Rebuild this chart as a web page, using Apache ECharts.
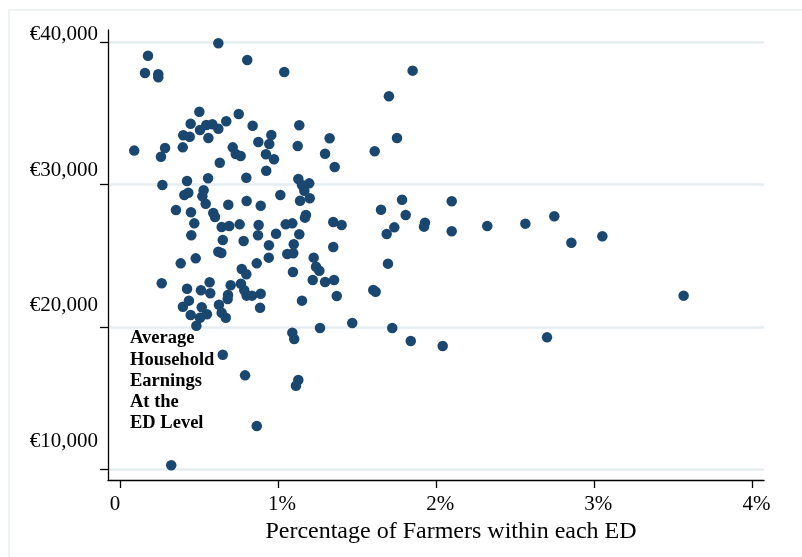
<!DOCTYPE html>
<html>
<head>
<meta charset="utf-8">
<script src="https://cdn.jsdelivr.net/npm/echarts@6/dist/echarts.min.js"></script>
<style>
  html, body { margin: 0; padding: 0; background: #fff; }
  #wrap { position: relative; width: 802px; height: 557px; overflow: hidden; }
  #chart { position: absolute; left: 0; top: 0; width: 802px; height: 557px; }
  #frame { position: absolute; left: 8px; top: 9px; width: 900px; height: 700px;
           border-left: 2px solid #edf2f2; border-top: 2px solid #edf2f2; pointer-events: none; }
</style>
</head>
<body>
<div id="wrap">
  <div id="chart"></div>
  <div id="frame"></div>
</div>
<script>
// values: share of farmers (%) and average household earnings (EUR)
var pctFarmers = [
  0.622, 0.177, 0.805, 0.158, 0.242, 0.242, 1.039, 1.851, 1.701, 0.502,
  0.751, 0.447, 0.546, 0.584, 0.622, 0.672, 0.506, 0.839, 1.134, 0.400,
  0.441, 0.559, 0.957, 1.326, 1.752, 0.875, 0.944, 1.124, 0.090, 0.285,
  0.259, 0.397, 0.713, 0.732, 0.763, 0.923, 0.974, 1.297, 1.611, 0.631,
  1.358, 0.925, 0.268, 0.424, 0.557, 0.799, 1.128, 1.197, 1.151, 1.166,
  0.407, 0.432, 0.529, 0.521, 0.542, 0.685, 0.801, 0.890, 1.014, 1.139,
  1.200, 0.354, 0.449, 0.590, 0.601, 0.470, 0.643, 0.691, 0.757, 0.877,
  1.048, 1.090, 1.170, 1.176, 1.349, 1.402, 1.651, 1.784, 1.807, 1.735,
  1.687, 1.929, 1.923, 2.098, 2.098, 2.323, 2.564, 2.747, 2.855, 3.051,
  0.451, 0.873, 0.987, 1.134, 0.650, 0.782, 0.942, 1.099, 1.349, 0.622,
  0.641, 1.058, 1.096, 0.941, 1.225, 0.479, 0.384, 0.865, 1.695, 0.770,
  0.799, 1.240, 1.261, 1.094, 0.264, 0.567, 0.700, 0.765, 1.219, 1.297,
  1.354, 0.424, 0.512, 0.571, 0.786, 0.801, 0.835, 0.890, 0.683, 0.681,
  1.602, 1.617, 3.565, 1.371, 0.436, 1.151, 0.398, 0.517, 0.626, 0.886,
  0.447, 0.550, 0.506, 0.643, 0.669, 0.483, 1.265, 1.469, 1.722, 1.090,
  1.102, 1.839, 2.041, 2.701, 0.650, 0.791, 1.128, 1.113, 0.865, 0.324
];
var avgEarnings = [
  39930, 39060, 38760, 37840, 37750, 37540, 37910, 38010, 36210, 35120,
  34960, 34280, 34190, 34240, 33930, 34450, 33840, 34140, 34170, 33470,
  33370, 33280, 33490, 33260, 33280, 33000, 32860, 32720, 32390, 32570,
  31960, 32620, 32620, 32150, 32010, 32130, 31780, 32170, 32340, 31540,
  31240, 30980, 29980, 30260, 30450, 30490, 30400, 30090, 29980, 29570,
  29270, 29430, 29600, 29180, 28660, 28590, 28850, 28520, 29270, 28870,
  29040, 28220, 28060, 28010, 27730, 27280, 27020, 27090, 27210, 27160,
  27210, 27280, 27680, 27870, 27380, 27160, 28240, 28940, 27870, 27000,
  26530, 27330, 27050, 28830, 26720, 27090, 27260, 27780, 25920, 26370,
  26440, 26440, 26550, 26510, 26110, 26040, 25740, 25810, 25620, 25290,
  25200, 25130, 25180, 24870, 24870, 24820, 24470, 24470, 24450, 24070,
  23700, 24230, 23950, 23860, 23070, 23140, 22930, 23040, 23300, 23160,
  23300, 22690, 22580, 22370, 22580, 22200, 22200, 22340, 22250, 21970,
  22600, 22480, 22200, 22180, 21850, 21850, 21420, 21380, 21560, 21350,
  20840, 20890, 20650, 21000, 20650, 20090, 19930, 20280, 19930, 19600,
  19150, 19010, 18660, 19270, 18050, 16600, 16270, 15870, 13040, 10280
];
var xTicks = [0, 1, 2, 3, 4];
var yTicks = [10000, 20000, 30000, 40000];
var yTitleLines = ['Average', 'Household', 'Earnings', 'At the', 'ED Level'];

var serif = 'Liberation Serif';
var points = pctFarmers.map(function (x, i) { return [x, avgEarnings[i]]; });

var myChart = echarts.init(document.getElementById('chart'), null, { renderer: 'canvas' });
var option = {
  animation: false,
  backgroundColor: 'transparent',
  title: {
    text: yTitleLines.join('\n'),
    left: 130,
    top: 328,
    padding: 0,
    textStyle: {
      fontFamily: serif,
      fontWeight: 'bold',
      fontSize: 18.5,
      lineHeight: 21.2,
      color: '#000'
    }
  },
  grid: { left: 108, right: 38, top: 30, bottom: 77, containLabel: false },
  xAxis: {
    type: 'value',
    min: -0.0759,
    max: 4.0734,
    name: 'Percentage of Farmers within each ED',
    nameLocation: 'middle',
    nameGap: 36,
    nameTextStyle: {
      fontFamily: serif, fontSize: 24, color: '#000', padding: [0, 0, 0, 30]
    },
    axisLine: { show: true, onZero: false, lineStyle: { color: '#000', width: 1.3 } },
    axisTick: { show: true, length: 8, customValues: xTicks, lineStyle: { color: '#000', width: 1.3 } },
    axisLabel: {
      customValues: xTicks,
      margin: 14,
      formatter: function (v) { return v === 0 ? '{z|0}' : '{p|' + v + '%}'; },
      rich: {
        z: { fontFamily: serif, fontSize: 21, color: '#000', padding: [0, 10, 0, 0] },
        p: { fontFamily: serif, fontSize: 21, color: '#000', padding: [0, 0, 0, 8] }
      }
    },
    splitLine: { show: false }
  },
  yAxis: [
    {
      type: 'value',
      min: 9248,
      max: 40865,
      axisLine: { show: true, onZero: false, lineStyle: { color: '#000', width: 1.3 } },
      axisTick: { show: true, length: 8, customValues: yTicks, lineStyle: { color: '#000', width: 1.3 } },
      axisLabel: { show: false },
      splitLine: { show: true, lineStyle: { color: '#e5edf0', width: 2.5 } }
    },
    {
      // labels only: they sit slightly off the ticks in the original
      type: 'value',
      position: 'left',
      min: 7180,
      max: 40309,
      axisLine: { show: false },
      axisTick: { show: false },
      splitLine: { show: false },
      axisLabel: {
        customValues: yTicks,
        margin: 10,
        fontFamily: serif,
        fontSize: 21,
        color: '#000',
        formatter: function (v) { return '€' + v.toLocaleString('en-US'); }
      }
    }
  ],
  series: [
    {
      type: 'scatter',
      yAxisIndex: 0,
      symbol: 'circle',
      symbolSize: 10.5,
      itemStyle: { color: '#1a476f', opacity: 1 },
      data: points
    }
  ]
};
myChart.setOption(option);
</script>
</body>
</html>
